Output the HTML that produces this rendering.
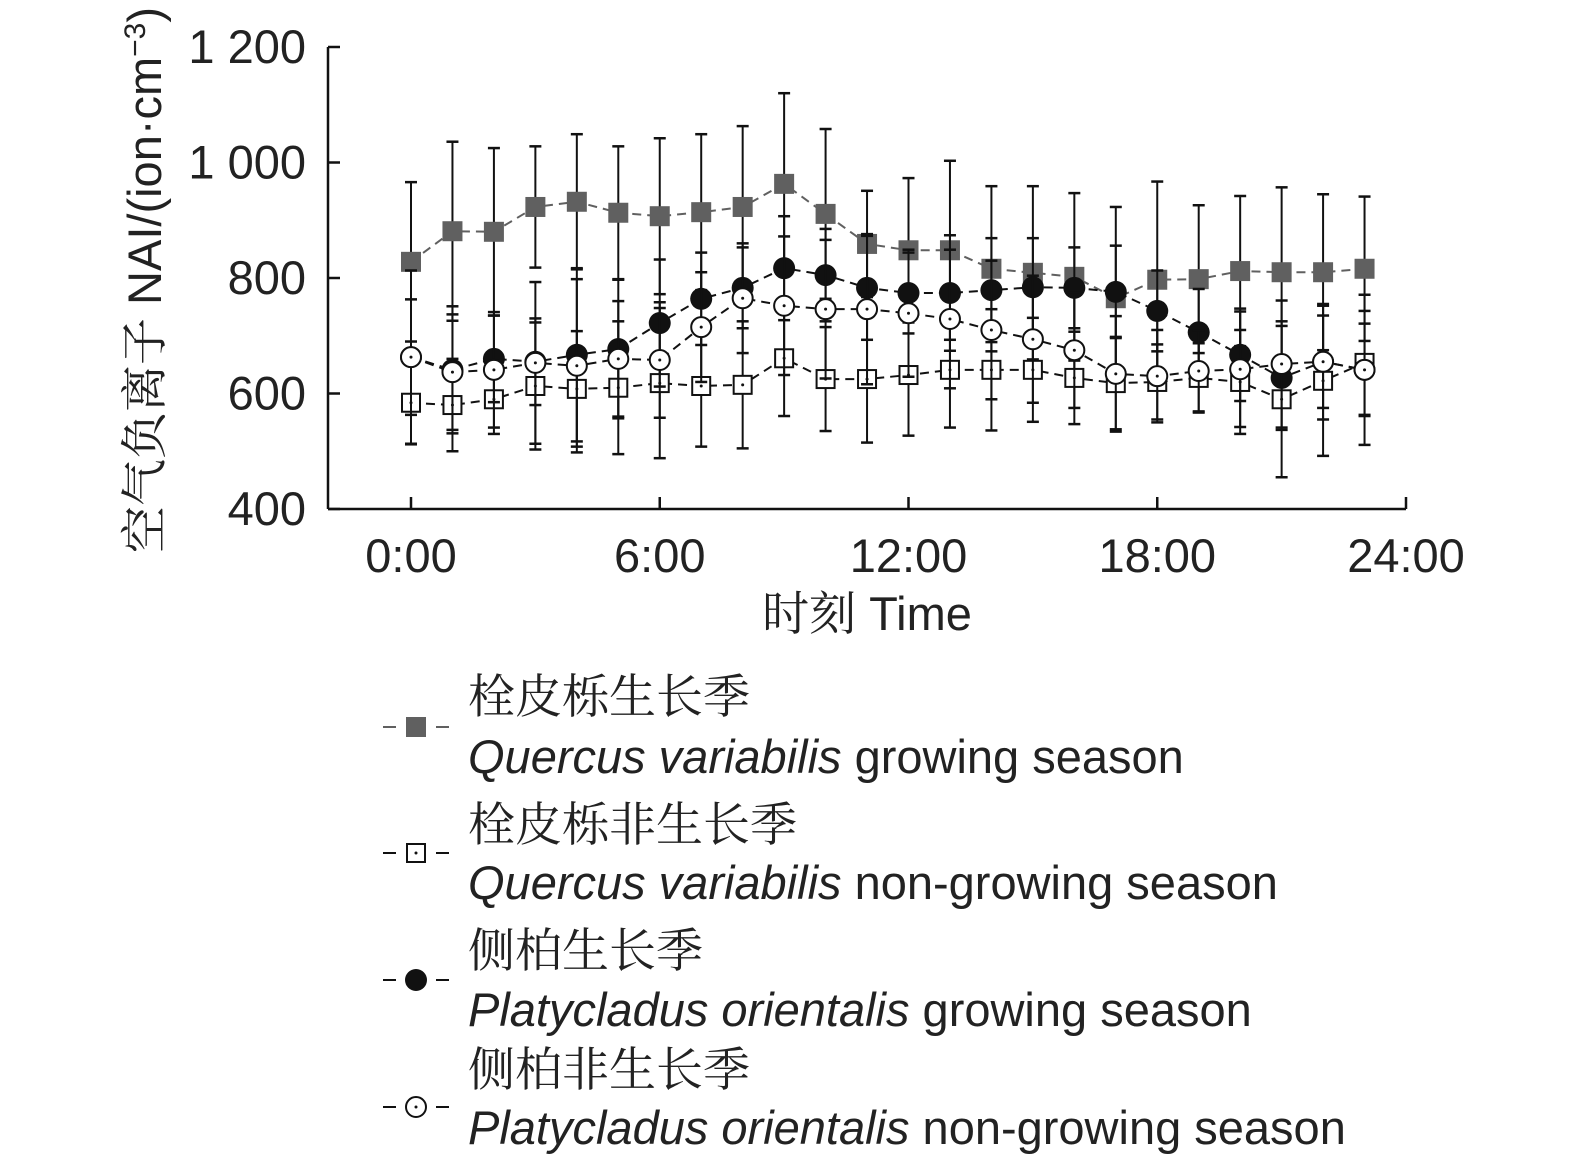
<!DOCTYPE html>
<html><head><meta charset="utf-8"><style>
body{margin:0;background:#fff;}
svg{font-family:"Liberation Sans","Noto Serif CJK SC",sans-serif;}
</style></head><body>
<svg id="c" width="1575" height="1164"></svg>
<script>
const hours=[0,1,2,3,4,5,6,7,8,9,10,11,12,13,14,15,16,17,18,19,20,21,22,23];
const qGrow=[828,881,880,923,932,913,907,914,923,963,911,859,848,848,816,809,802,765,797,798,812,810,810,816];
const qGrowErr=[138,155,145,105,117,115,135,135,140,157,147,92,125,155,143,150,145,158,170,128,130,147,135,125];
const qNon=[584,580,590,613,608,610,618,613,615,661,625,625,632,641,641,641,627,618,620,627,620,590,622,653];
const qNonErr=[72,80,60,110,100,115,130,105,110,100,90,110,105,100,105,90,80,80,65,60,90,135,130,90];
const pGrow=[663,641,660,655,667,677,722,764,783,817,805,783,774,774,779,784,783,776,743,706,667,627,655,641];
const pGrowErr=[100,110,75,75,150,120,110,80,70,90,80,90,70,100,90,85,70,80,70,75,80,90,80,80];
const pNon=[663,637,641,653,648,660,658,715,765,752,746,746,739,729,710,694,675,634,630,639,642,651,655,641];
const pNonErr=[150,100,100,140,150,100,100,95,95,120,120,130,110,120,120,110,100,100,80,70,100,110,100,130];
const xTicks=[0,6,12,18,24], xLabels=["0:00","6:00","12:00","18:00","24:00"];
const yTicks=[400,600,800,1000,1200], yLabels=["400","600","800","1 000","1 200"];
const svg=document.getElementById('c');const NS="http://www.w3.org/2000/svg";
const X=h=>411+h*(1406-411)/24, Y=v=>509-(v-400)*(509-47)/800;
function el(t,a,p){const e=document.createElementNS(NS,t);for(const k in a)e.setAttribute(k,a[k]);(p||svg).appendChild(e);return e;}
const FS=47;
const ax=el('g',{});
el('line',{x1:328,y1:509,x2:1406,y2:509,stroke:'#111','stroke-width':2.5},ax);
el('line',{x1:328,y1:47,x2:328,y2:509,stroke:'#111','stroke-width':2.5},ax);
yTicks.forEach((v,i)=>{el('line',{x1:328,x2:340,y1:Y(v),y2:Y(v),stroke:'#111','stroke-width':2.5},ax);
 const t=el('text',{x:306,y:Y(v)+16,'text-anchor':'end','font-size':FS,fill:'#222'},ax);t.textContent=yLabels[i];
 });
xTicks.forEach((h,i)=>{el('line',{x1:X(h),x2:X(h),y1:497,y2:509,stroke:'#111','stroke-width':2.5},ax);
 const t=el('text',{x:X(h),y:572,'text-anchor':'middle','font-size':FS,fill:'#222'},ax);t.textContent=xLabels[i];
 });
let t=el('text',{x:867,y:630,'text-anchor':'middle','font-size':FS,fill:'#222'});t.textContent='时刻 Time';

t=el('text',{x:0,y:0,'text-anchor':'middle','font-size':FS,fill:'#222',transform:'translate(161,280) rotate(-90)'});
t.innerHTML='空气负离子 NAI/(ion·cm<tspan dy="-16" font-size="30">−3</tspan><tspan dy="16">)</tspan>';

function marker(g,x,y,type){
 if(type=='sqf')el('rect',{x:x-10,y:y-10,width:20,height:20,fill:'#606060'},g);
 else if(type=='sqo'){el('rect',{x:x-9,y:y-9,width:18,height:18,fill:'#fff',stroke:'#111','stroke-width':2},g);el('circle',{cx:x,cy:y,r:1.5,fill:'#111'},g);}
 else if(type=='cf')el('circle',{cx:x,cy:y,r:11,fill:'#111'},g);
 else {el('circle',{cx:x,cy:y,r:10,fill:'#fff',stroke:'#111','stroke-width':2},g);el('circle',{cx:x,cy:y,r:1.5,fill:'#111'},g);}
}
const series=[[qGrow,qGrowErr,'sqf','#606060','series-quercus-growing'],[qNon,qNonErr,'sqo','#111','series-quercus-non-growing'],
 [pGrow,pGrowErr,'cf','#111','series-platycladus-growing'],[pNon,pNonErr,'co','#111','series-platycladus-non-growing']];
series.forEach(s=>{const g=el('g',{});
 s[0].forEach((v,i)=>{const x=X(hours[i]);const e=s[1][i];
  el('line',{x1:x,x2:x,y1:Y(v+e),y2:Y(v-e),stroke:'#111','stroke-width':2},g);
  el('line',{x1:x-6,x2:x+6,y1:Y(v+e),y2:Y(v+e),stroke:'#111','stroke-width':2.5},g);
  el('line',{x1:x-6,x2:x+6,y1:Y(v-e),y2:Y(v-e),stroke:'#111','stroke-width':2.5},g);});
 el('polyline',{points:s[0].map((v,i)=>X(hours[i])+','+Y(v)).join(' '),fill:'none',stroke:s[3],'stroke-width':2,'stroke-dasharray':'9,6'},g);
 s[0].forEach((v,i)=>marker(g,X(hours[i]),Y(v),s[2]));});
const leg=[['sqf','栓皮栎生长季','Quercus variabilis',' growing season',697,757,727],
 ['sqo','栓皮栎非生长季','Quercus variabilis',' non-growing season',825,883,853],
 ['cf','侧柏生长季','Platycladus orientalis',' growing season',951,1010,980],
 ['co','侧柏非生长季','Platycladus orientalis',' non-growing season',1070,1128,1107]];
leg.forEach((l,i)=>{const g=el('g',{});
 const c=l[0]=='sqf'?'#606060':'#111';
 el('line',{x1:383,x2:396,y1:l[6],y2:l[6],stroke:c,'stroke-width':2},g);
 el('line',{x1:436,x2:449,y1:l[6],y2:l[6],stroke:c,'stroke-width':2},g);
 marker(g,416,l[6],l[0]);
 let a=el('text',{x:468,y:l[4]+16,'font-size':FS,fill:'#222'},g);a.textContent=l[1];
 a=el('text',{x:468,y:l[5]+16,'font-size':FS,fill:'#222'},g);a.innerHTML='<tspan font-style="italic">'+l[2]+'</tspan>'+l[3];});
</script>
</body></html>
